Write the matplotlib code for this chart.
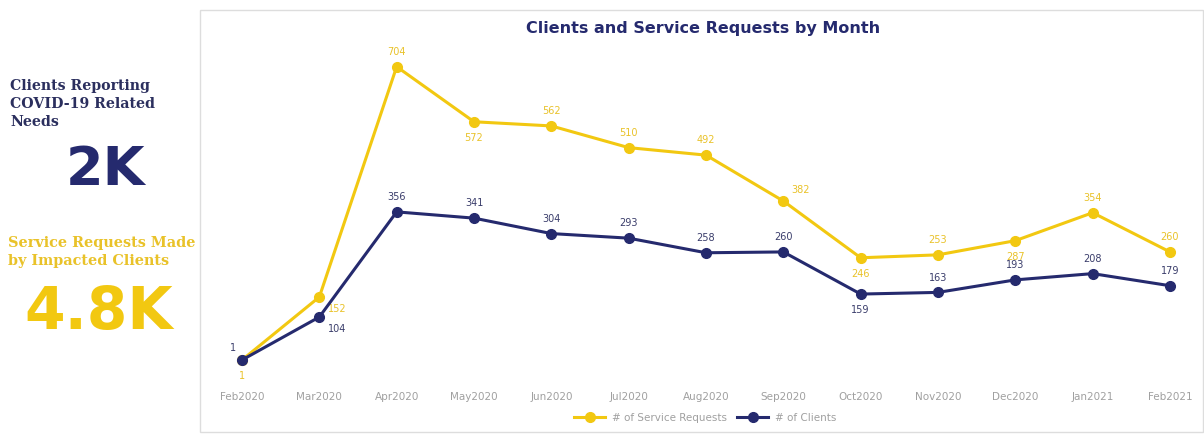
"""Clients and service requests by month - dashboard style line chart"""
import matplotlib
matplotlib.use("Agg")
import matplotlib.pyplot as plt
from matplotlib.patches import Rectangle
from matplotlib.lines import Line2D
import numpy as np

months = ["Feb2020", "Mar2020", "Apr2020", "May2020", "Jun2020", "Jul2020", "Aug2020",
          "Sep2020", "Oct2020", "Nov2020", "Dec2020", "Jan2021", "Feb2021"]
service_requests = [1, 152, 704, 572, 562, 510, 492, 382, 246, 253, 287, 354, 260]
clients = [1, 104, 356, 341, 304, 293, 258, 260, 159, 163, 193, 208, 179]
# where each data label goes relative to its point
req_pos = ["below", "right", "above", "below", "above", "above", "above",
           "upright", "below", "above", "below", "above", "above"]
cli_pos = ["left", "right", "above", "above", "above", "above", "above",
           "above", "below", "above", "above", "above", "above"]

YELLOW = "#F2C811"
YELLOW_TXT = "#E9C229"
NAVY = "#252A6E"
GREY = "#A0A0A0"

W, H = 1204, 434
fig = plt.figure(figsize=(W / 100, H / 100), dpi=100)

# panel border of the chart card
fig.patches.append(Rectangle((200 / W, 2 / H), 1003 / W, 422 / H, transform=fig.transFigure,
                             fill=False, edgecolor="#DDDDDD", linewidth=1))

# axes: pixels 215..1195 horizontally, 45..375 from the top vertically
ax = fig.add_axes([215 / W, (H - 375) / H, 980 / W, 330 / H])
x = np.arange(len(months))
ax.plot(x, service_requests, color=YELLOW, lw=2.2, marker="o", ms=7, zorder=3)
ax.plot(x, clients, color=NAVY, lw=2.2, marker="o", ms=7, zorder=4)
ax.set_xlim(-27 / 77.33, 12 + 25 / 77.33)
ax.set_ylim(-35, 756)
ax.set_xticks(x)
ax.set_xticklabels(months)
ax.tick_params(axis="x", length=0, pad=12, labelsize=7.5, labelcolor=GREY)
ax.set_yticks([])
for s in ax.spines.values():
    s.set_visible(False)

offsets = {"above": (0, 7, "center", "bottom"), "below": (0, -8, "center", "top"),
           "right": (6, -5, "left", "top"), "left": (-4, 5, "right", "bottom"),
           "upright": (6, 4, "left", "bottom")}
for xi, v, p in zip(x, service_requests, req_pos):
    dx, dy, ha, va = offsets[p]
    ax.annotate(str(v), (xi, v), xytext=(dx, dy), textcoords="offset points",
                ha=ha, va=va, fontsize=7, color=YELLOW_TXT)
for xi, v, p in zip(x, clients, cli_pos):
    dx, dy, ha, va = offsets[p]
    ax.annotate(str(v), (xi, v), xytext=(dx, dy), textcoords="offset points",
                ha=ha, va=va, fontsize=7, color="#3A3D6B")

fig.text(703 / W, 1 - 29 / H, "Clients and Service Requests by Month", ha="center", va="center",
         fontsize=11.5, fontweight="bold", color=NAVY)

handles = [Line2D([], [], color=YELLOW, lw=2.2, marker="o", ms=7),
           Line2D([], [], color=NAVY, lw=2.2, marker="o", ms=7)]
fig.legend(handles, ["# of Service Requests", "# of Clients"], loc="center",
           bbox_to_anchor=(705 / W, 1 - 418 / H), ncol=2, frameon=False, fontsize=7.5,
           labelcolor=GREY, handlelength=3, columnspacing=1, handletextpad=0.6)

# KPI cards on the left
fig.text(10 / W, 1 - 104 / H, "Clients Reporting\nCOVID-19 Related\nNeeds", ha="left",
         va="center", fontsize=10.2, fontweight="bold", color="#2B2F5E",
         family="DejaVu Serif", linespacing=1.4)
fig.text(105 / W, 1 - 170 / H, "2K", ha="center", va="center", fontsize=39,
         fontweight="bold", color=NAVY)
fig.text(8 / W, 1 - 252 / H, "Service Requests Made\nby Impacted Clients", ha="left",
         va="center", fontsize=10.4, fontweight="bold", color=YELLOW_TXT,
         family="DejaVu Serif", linespacing=1.4)
fig.text(99 / W, 1 - 312 / H, "4.8K", ha="center", va="center", fontsize=42,
         fontweight="bold", color=YELLOW)

fig.savefig("out.png", dpi=100)
plt.close()
